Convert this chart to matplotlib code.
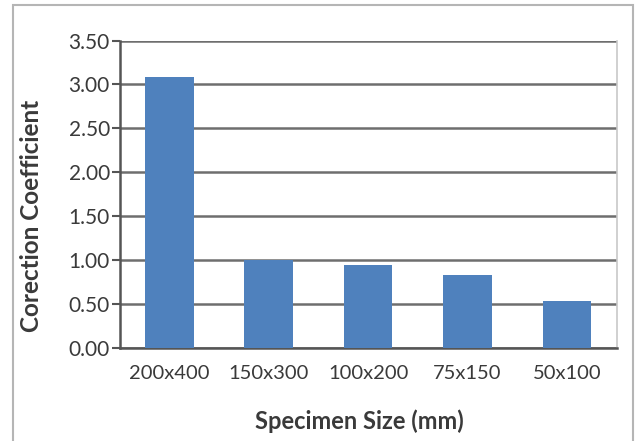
import matplotlib.pyplot as plt
from matplotlib.patches import Rectangle

# specimen sizes and their correction coefficients
sizes = ['200x400', '150x300', '100x200', '75x150', '50x100']
coefficients = [3.08, 1.00, 0.95, 0.83, 0.53]
yticks = [0.0, 0.5, 1.0, 1.5, 2.0, 2.5, 3.0, 3.5]

plt.rcParams['font.family'] = ['Lato', 'DejaVu Sans']

fig = plt.figure(figsize=(6.43, 4.41), dpi=100)
ax = fig.add_axes([0.186, 0.211, 0.773, 0.697])

# chart area frame
fig.patches.append(Rectangle((13 / 643, -0.05), 620 / 643, 1 - 5 / 441 + 0.05,
                             transform=fig.transFigure, fill=False,
                             edgecolor='#b5b5b5', linewidth=1.5))

x = range(len(sizes))
ax.bar(x, coefficients, width=0.49, color='#4f81bd', zorder=3)

ax.set_xlim(-0.5, len(sizes) - 0.5)
ax.set_ylim(0, 3.5)
ax.set_yticks(yticks)
ax.set_yticklabels(['%.2f' % v for v in yticks])
ax.set_xticks(list(x))
ax.set_xticklabels(sizes)

ax.grid(axis='y', color='#6e6e6e', linewidth=1.8, zorder=0)
ax.set_axisbelow(True)

ax.spines['top'].set_visible(False)
ax.spines['right'].set_color('#c8c8c8')
ax.spines['right'].set_linewidth(1.2)
for side in ['left', 'bottom']:
    ax.spines[side].set_color('#555555')
    ax.spines[side].set_linewidth(1.8)

ax.tick_params(axis='y', direction='out', length=6, width=1.5, color='#555555',
               labelsize=15, labelcolor='#3a3a3a', pad=1)
ax.tick_params(axis='x', length=0, labelsize=14.5, labelcolor='#3a3a3a', pad=12)

ax.set_xlabel('Specimen Size (mm)', fontsize=17, fontweight='bold',
              color='#3a3a3a')
ax.set_ylabel('Corection Coefficient', fontsize=17.5, fontweight='bold',
              color='#3a3a3a')
ax.xaxis.set_label_coords(0.483, -0.2)
ax.yaxis.set_label_coords(-0.155, 0.43)

fig.savefig('out.png', dpi=100)
